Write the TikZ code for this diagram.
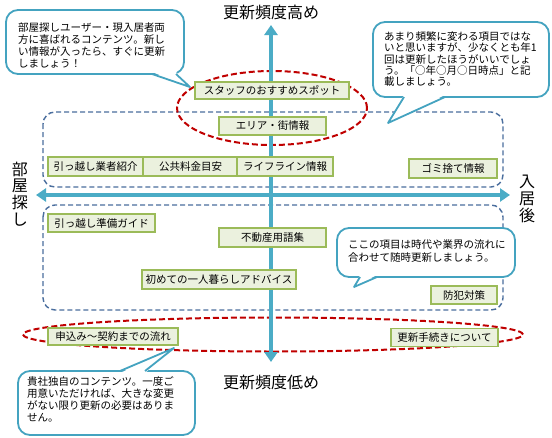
\documentclass[tikz,border=0pt]{standalone}
\usepackage{fontspec}
\setmainfont{Noto Sans CJK JP}
\usetikzlibrary{arrows.meta}
\definecolor{axisc}{HTML}{4BACC6}
\definecolor{callc}{HTML}{44A3C0}
\definecolor{bdash}{HTML}{4A6E9E}
\definecolor{rdash}{HTML}{C00000}
\definecolor{gline}{HTML}{9BBB59}
\definecolor{gfill}{HTML}{EBF1DE}
\begin{document}
\begin{tikzpicture}[x=1pt,y=-1pt,
  gbox/.style={draw=gline, fill=gfill, line width=1.2pt, minimum height=18pt, inner sep=0pt,
    font=\fontsize{10.5}{12}\selectfont},
  bdashed/.style={draw=bdash, line width=1.4pt, dash pattern=on 5pt off 3pt, rounded corners=12pt},
  rdashed/.style={draw=rdash, line width=2pt, dash pattern=on 6pt off 3pt},
  axisline/.style={draw=axisc, line width=4.5pt,
    {Triangle[width=13pt,length=10pt]}-{Triangle[width=13pt,length=10pt]}},
  callbox/.style={draw=callc, fill=white, line width=1.8pt, rounded corners=12pt},
  calltail/.style={draw=callc, line width=1.8pt, line join=round},
  calltext/.style={inner sep=0pt, align=left, anchor=north west},
  biglabel/.style={inner sep=0pt, align=center, font=\fontsize{16}{16.7}\selectfont}
]
\useasboundingbox (0,0) rectangle (552,437);
\fill[white] (0,0) rectangle (552,437);

% dashed groups
\draw[bdashed] (43,112) rectangle (503,187);
\draw[bdashed] (43,205) rectangle (503,310);

% red ellipses
\draw[rdashed] (272,108) ellipse [x radius=95pt, y radius=37pt];
\draw[rdashed] (273,334.5) ellipse [x radius=250pt, y radius=17pt];

% axes
\coordinate (vt) at (271,25);
\coordinate (vb) at (271,362);
\coordinate (hl) at (36,195);
\coordinate (hr) at (510,195);
\draw[axisline] (vb) -- (vt);
\draw[axisline] (hl) -- (hr);

% axis labels
\node[biglabel] (lbltop) at (271,12) {更新頻度高め};
\node[biglabel] (lblbot) at (271,382) {更新頻度低め};
\node[biglabel] (lblleft) at (20,194) {部\\屋\\探\\し};
\node[biglabel] (lblright) at (527,199) {入\\居\\後};

% green items
\node[gbox, minimum width=154pt, minimum height=17pt] (staff) at (272,90.5) {スタッフのおすすめスポット};
\node[gbox, minimum width=107pt] (area) at (272.5,126) {エリア・街情報};
\node[gbox, minimum width=95pt, minimum height=19pt] (hikkoshi) at (95.5,166.5) {引っ越し業者紹介};
\node[gbox, minimum width=95pt, minimum height=19pt] (kokyo) at (190.5,166.5) {公共料金目安};
\node[gbox, minimum width=96pt, minimum height=19pt] (lifeline) at (285,166.5) {ライフライン情報};
\node[gbox, minimum width=88pt, minimum height=19pt] (gomi) at (453,168.5) {ゴミ捨て情報};
\node[gbox, minimum width=107pt] (junbi) at (101.5,223) {引っ越し準備ガイド};
\node[gbox, minimum width=107pt, minimum height=19pt] (yogo) at (272.5,237.5) {不動産用語集};
\node[gbox, minimum width=154pt, minimum height=19pt] (hitori) at (219,279.5) {初めての一人暮らしアドバイス};
\node[gbox, minimum width=66pt] (bohan) at (464,295) {防犯対策};
\node[gbox, minimum width=130pt, minimum height=17pt] (moshikomi) at (113,336.5) {申込み～契約までの流れ};
\node[gbox, minimum width=107pt] (koshin) at (444.5,337.5) {更新手続きについて};

% callout 1 (top left)
\draw[callbox] (6,10) rectangle (184,74);
\fill[white] (152,72) -- (176,72) -- (190,87) -- cycle;
\draw[calltail] (152,74) -- (190,87) -- (176,74);
\node[calltext, font=\fontsize{10.5}{12.3}\selectfont] (c1) at (18,22)
  {部屋探しユーザー・現入居者両\\方に喜ばれるコンテンツ。新し\\い情報が入ったら、すぐに更新\\しましょう！};

% callout 2 (top right)
\draw[callbox] (373,22) rectangle (549,97);
\fill[white] (404,95) -- (445,95) -- (388,123) -- cycle;
\draw[calltail] (404,97) -- (388,123) -- (445,97);
\node[calltext, font=\fontsize{10.5}{11.3}\selectfont] (c2) at (384,31.5)
  {あまり頻繁に変わる項目ではな\\いと思いますが、少なくとも年1\\回は更新したほうがいいでしょ\\う。「○年○月○日時点」と記\\載しましょう。};

% callout 3 (middle right)
\draw[callbox] (337,228) rectangle (515,277);
\fill[white] (360,275) -- (377,275) -- (354,287) -- cycle;
\draw[calltail] (360,277) -- (354,287) -- (377,277);
\node[calltext, font=\fontsize{10.5}{13}\selectfont] (c3) at (348,239)
  {ここの項目は時代や業界の流れに\\合わせて随時更新しましょう。};

% callout 4 (bottom left)
\draw[callbox] (18,371) rectangle (195,435);
\fill[white] (120,373) -- (145,373) -- (174,348) -- cycle;
\draw[calltail] (120,371) -- (174,348) -- (145,371);
\node[calltext, font=\fontsize{10.5}{12.3}\selectfont] (c4) at (27,376)
  {貴社独自のコンテンツ。一度ご\\用意いただければ、大きな変更\\がない限り更新の必要はありま\\せん。};
\end{tikzpicture}
\end{document}
